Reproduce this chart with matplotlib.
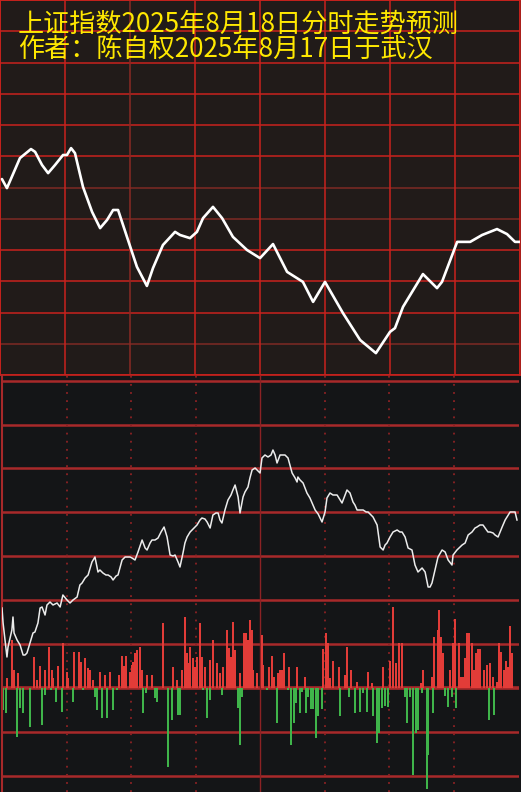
import numpy as np
import matplotlib
matplotlib.use('Agg')
import matplotlib.pyplot as plt

plt.rcParams['font.family'] = ['Noto Sans CJK SC', 'DejaVu Sans']

title1 = '上证指数2025年8月18日分时走势预测'
title2 = '作者：陈自权2025年8月17日于武汉'

# forecast curve: minutes after open, level in grid rows
fc_min = [0.9, 3.2, 9.2, 14.3, 16.2, 19.4, 22.2, 25.4, 29.1, 30.9,
          32.8, 34.6, 38.3, 42.5, 46.2, 49.4, 52.2, 54.5, 58.6, 63.2,
          67.8, 70.6, 75.2, 80.8, 83.1, 87.7, 90.9, 93.7, 98.3, 102.5,
          107.5, 114.0, 120.0, 126.0, 132.5, 139.8, 144.5, 150.0, 158.3, 166.2,
          173.5, 180.0, 182.3, 186.0, 195.2, 201.7, 204.0, 211.0, 217.0, 222.5,
          229.4, 234.0, 237.7, 240.0]
fc_val = [6.27, 5.98, 6.94, 7.23, 7.14, 6.72, 6.46, 6.72, 7.04, 7.04,
          7.26, 7.10, 6.02, 5.22, 4.70, 4.96, 5.28, 5.28, 4.42, 3.46,
          2.85, 3.42, 4.16, 4.58, 4.48, 4.38, 4.58, 5.02, 5.38, 5.02,
          4.42, 4.00, 3.74, 4.19, 3.30, 2.98, 2.34, 2.98, 1.98, 1.12,
          0.70, 1.38, 1.50, 2.18, 3.23, 2.78, 2.98, 4.26, 4.26, 4.48,
          4.67, 4.51, 4.26, 4.26]

# tick price line (minutes, offset)
px_min = [0, 0.5, 1.4, 2.3, 2.8, 4.6, 5.1, 5.6, 7.0, 8.4,
          9.8, 10.7, 11.6, 13.0, 14.4, 15.3, 16.7, 17.7, 18.6, 20.0,
          20.9, 22.3, 23.7, 25.6, 27.0, 28.3, 30.2, 31.6, 33.0, 34.9,
          36.2, 37.2, 38.6, 40.0, 41.8, 43.2, 44.6, 45.5, 46.9, 48.3,
          49.3, 50.7, 51.6, 53.0, 53.9, 55.8, 57.2, 58.1, 59.5, 60.4,
          61.8, 63.2, 65.1, 66.5, 67.4, 68.8, 69.7, 71.1, 72.5, 73.9,
          75.3, 76.7, 78.1, 79.5, 80.4, 81.8, 82.7, 84.1, 85.0, 86.0,
          87.4, 88.3, 89.7, 90.6, 92.0, 92.9, 94.3, 95.3, 96.7, 98.0,
          99.4, 100.4, 101.3, 102.2, 103.6, 105.0, 106.4, 107.3, 108.3, 109.7,
          110.6, 112.0, 112.9, 114.3, 115.2, 116.2, 117.6, 118.5, 119.9, 120.8,
          122.2, 123.6, 125.0, 125.9, 126.9, 127.8, 129.2, 130.6, 131.5, 132.9,
          133.8, 134.8, 136.2, 137.1, 137.5, 138.5, 139.9, 140.8, 141.7, 143.1,
          144.1, 145.5, 146.9, 147.8, 148.7, 150.1, 151.0, 152.4, 153.8, 155.7,
          157.1, 158.0, 159.4, 160.3, 161.7, 163.1, 164.0, 165.0, 166.4, 167.8,
          169.2, 170.1, 171.5, 172.4, 174.3, 175.7, 177.1, 178.0, 178.9, 180.3,
          181.7, 183.6, 184.9, 185.9, 187.3, 188.7, 190.5, 191.9, 193.3, 195.2,
          196.6, 198.0, 198.9, 199.8, 201.2, 202.6, 204.5, 205.9, 207.3, 209.1,
          209.6, 211.4, 212.8, 213.8, 215.2, 216.6, 218.4, 219.8, 220.7, 222.1,
          223.5, 225.8, 226.8, 228.2, 229.1, 230.5, 232.4, 233.8, 235.2, 236.1,
          238.4, 239.3]
px_val = [80, 65, 48, 31, 41, 58, 71, 55, 48, 43,
          33, 33, 35, 45, 55, 56, 65, 80, 81, 73,
          83, 86, 83, 85, 81, 93, 88, 85, 88, 91,
          103, 105, 110, 113, 126, 131, 116, 118, 115, 113,
          113, 111, 108, 112, 113, 128, 131, 131, 131, 130,
          128, 136, 148, 140, 138, 145, 148, 148, 150, 156,
          161, 151, 133, 132, 133, 126, 121, 135, 145, 151,
          156, 158, 161, 163, 168, 170, 169, 166, 160, 173,
          175, 175, 168, 165, 178, 188, 193, 198, 203, 191,
          175, 191, 196, 201, 210, 218, 220, 218, 215, 230,
          233, 231, 233, 238, 233, 225, 233, 233, 233, 230,
          223, 215, 210, 206, 211, 208, 205, 200, 195, 190,
          185, 178, 174, 170, 166, 176, 190, 195, 193, 193,
          188, 185, 193, 198, 195, 186, 183, 178, 178, 178,
          176, 176, 173, 171, 163, 141, 138, 143, 145, 151,
          156, 158, 156, 156, 151, 140, 138, 123, 116, 120,
          116, 101, 101, 105, 118, 131, 138, 136, 128, 123,
          133, 138, 141, 143, 145, 153, 156, 160, 161, 163,
          163, 156, 156, 155, 153, 151, 161, 168, 173, 176,
          176, 168]

# buy / sell bars
up_min = [2.5, 4.5, 5.6, 7.6, 14.9, 16.1, 17.7, 20.0, 22.0, 23.1,
          23.8, 26.2, 28.5, 30.0, 30.8, 33.5, 35.8, 36.6, 38.6, 40.1,
          40.9, 42.4, 45.5, 47.9, 50.2, 54.5, 55.6, 56.7, 57.6, 59.5,
          60.3, 61.0, 61.8, 62.6, 64.1, 65.2, 67.2, 69.6, 75.0, 79.6,
          81.2, 83.5, 85.0, 85.8, 86.6, 87.4, 88.9, 89.7, 90.5, 92.0,
          92.8, 94.3, 96.7, 98.2, 99.8, 101.3, 102.8, 104.7, 105.6, 106.3,
          107.5, 108.3, 110.6, 112.6, 113.4, 114.5, 115.2, 116.0, 116.8, 118.4,
          120.7, 121.4, 124.2, 125.5, 126.4, 128.4, 129.2, 130.1, 131.2, 133.5,
          137.0, 140.8, 149.3, 150.4, 151.3, 152.4, 153.7, 156.6, 159.4, 160.2,
          162.2, 164.8, 169.9, 171.8, 177.2, 180.3, 181.6, 183.1, 184.3, 186.0,
          194.6, 195.8, 199.7, 200.7, 202.5, 203.2, 204.0, 205.1, 208.2, 209.4,
          210.5, 212.5, 213.3, 214.1, 215.3, 216.2, 217.0, 218.3, 219.3, 220.3,
          221.3, 222.1, 224.0, 225.2, 226.8, 228.3, 230.2, 231.1, 231.9, 233.4,
          234.2, 235.0, 236.1, 237.0]
up_vol = [10, 48, 18, 15, 31, 8, 22, 18, 41, 18,
          10, 22, 45, 16, 10, 36, 36, 26, 30, 20,
          18, 8, 16, 13, 16, 13, 32, 22, 32, 16,
          23, 26, 35, 38, 41, 18, 13, 13, 65, 21,
          8, 18, 71, 35, 25, 41, 30, 21, 31, 65,
          31, 21, 28, 48, 25, 15, 21, 58, 40, 31,
          66, 38, 15, 55, 55, 48, 68, 58, 18, 15,
          53, 23, 21, 32, 11, 15, 18, 18, 35, 21,
          21, 11, 39, 55, 45, 10, 27, 21, 13, 41,
          18, 6, 16, 5, 21, 27, 81, 25, 45, 45,
          5, 18, 11, 51, 58, 78, 51, 35, 18, 45,
          69, 45, 11, 11, 30, 55, 55, 45, 18, 35,
          39, 39, 18, 23, 25, 11, 6, 45, 36, 18,
          27, 21, 62, 35]
dn_min = [0.3, 1.9, 6.8, 8.4, 9.6, 13.0, 18.4, 20.0, 22.6, 25.1,
          27.7, 32.9, 37.8, 43.2, 44.3, 46.3, 48.6, 51.4, 53.3, 65.7,
          66.9, 71.1, 71.9, 77.3, 78.9, 81.9, 82.7, 93.5, 95.1, 96.7,
          102.1, 109.8, 110.6, 111.4, 123.3, 127.6, 133.1, 134.2, 135.7, 136.5,
          138.5, 139.3, 141.3, 142.4, 143.6, 144.4, 145.9, 147.0, 148.6, 157.1,
          161.4, 164.0, 166.4, 167.9, 169.5, 172.5, 174.1, 175.1, 176.6, 178.1,
          179.5, 187.3, 188.1, 189.6, 190.8, 192.4, 193.2, 195.3, 197.4, 198.1,
          200.1, 206.0, 207.4, 209.0, 211.0, 226.2, 228.6]
dn_vol = [22, 25, 49, 20, 25, 39, 37, 7, 2, 14,
          24, 14, 2, 9, 22, 30, 30, 22, 2, 25,
          5, 10, 14, 79, 32, 27, 27, 2, 30, 12,
          7, 20, 57, 9, 2, 35, 2, 57, 35, 15,
          25, 4, 25, 9, 21, 21, 50, 28, 21, 28,
          9, 25, 24, 5, 24, 28, 55, 45, 20, 18,
          19, 9, 35, 9, 87, 45, 42, 5, 101, 67,
          25, 8, 19, 9, 20, 32, 27]

W, H = 521, 792
fig = plt.figure(figsize=(W / 100, H / 100), dpi=100)
fig.patch.set_facecolor('#141517')

# ---- top panel: forecast ----
ax1 = fig.add_axes([0, (H - 375) / H, 520 / W, 375 / H])
ax1.set_facecolor('#211b19')
ax1.set_xlim(0, 240)
ax1.set_ylim(0, 12)
for k in range(13):
    c = '#7e2a24' if k in (1, 5, 6) else '#c9221d'
    ax1.axhline(k, color=c, lw=1.1, zorder=1)
for k in range(9):
    c = '#8a2a24' if k == 2 else '#c9221d'
    ax1.axvline(k * 30, color=c, lw=1.1, zorder=1)
ax1.plot(fc_min, fc_val, color='white', lw=1.9, solid_joinstyle='round',
         solid_capstyle='round', zorder=3)
ax1.set_xticks([])
ax1.set_yticks([])
for s in ax1.spines.values():
    s.set_color('#c9221d')
    s.set_linewidth(1.2)

# ---- bottom panel: tick line + bars ----
ax2 = fig.add_axes([2 / W, 0, 516.5 / W, 416 / H])
ax2.set_facecolor('#141517')
ax2.set_xlim(0, 240)
ax2.set_ylim(-104, 312)
step = 43.9
for k in range(-2, 8):
    lw = 2.6 if k == 0 else 1.8
    ax2.axhline(k * step, color='#a8292a', lw=lw, zorder=1)
for k in range(1, 8):
    if k == 4:
        ax2.axvline(k * 30, color='#8c2224', lw=1.0, zorder=1)
    else:
        ax2.axvline(k * 30, color='#8c2224', lw=1.3, ls=(0, (1, 3.5)), zorder=1)
ax2.bar(up_min, up_vol, width=0.9, color='#e23c38', antialiased=False, zorder=2)
ax2.bar(dn_min, [-v for v in dn_vol], width=0.9, color='#3fb44a',
        antialiased=False, zorder=2)
ax2.plot(px_min, px_val, color='#ececec', lw=1.1, zorder=3)
ax2.set_xticks([])
ax2.set_yticks([])
for s in ax2.spines.values():
    s.set_visible(False)
ax2.spines['left'].set_visible(True)
ax2.spines['left'].set_color('#a8292a')
ax2.spines['left'].set_linewidth(1.5)

# ---- title ----
fig.text(18 / W, 1 - 24 / H, title1, color='#ffe800', fontsize=18.8,
         fontweight='medium', ha='left', va='center')
fig.text(18 / W, 1 - 49 / H, title2, color='#ffe800', fontsize=18.8,
         fontweight='medium', ha='left', va='center')

fig.savefig('out.png', dpi=100, facecolor=fig.get_facecolor())
